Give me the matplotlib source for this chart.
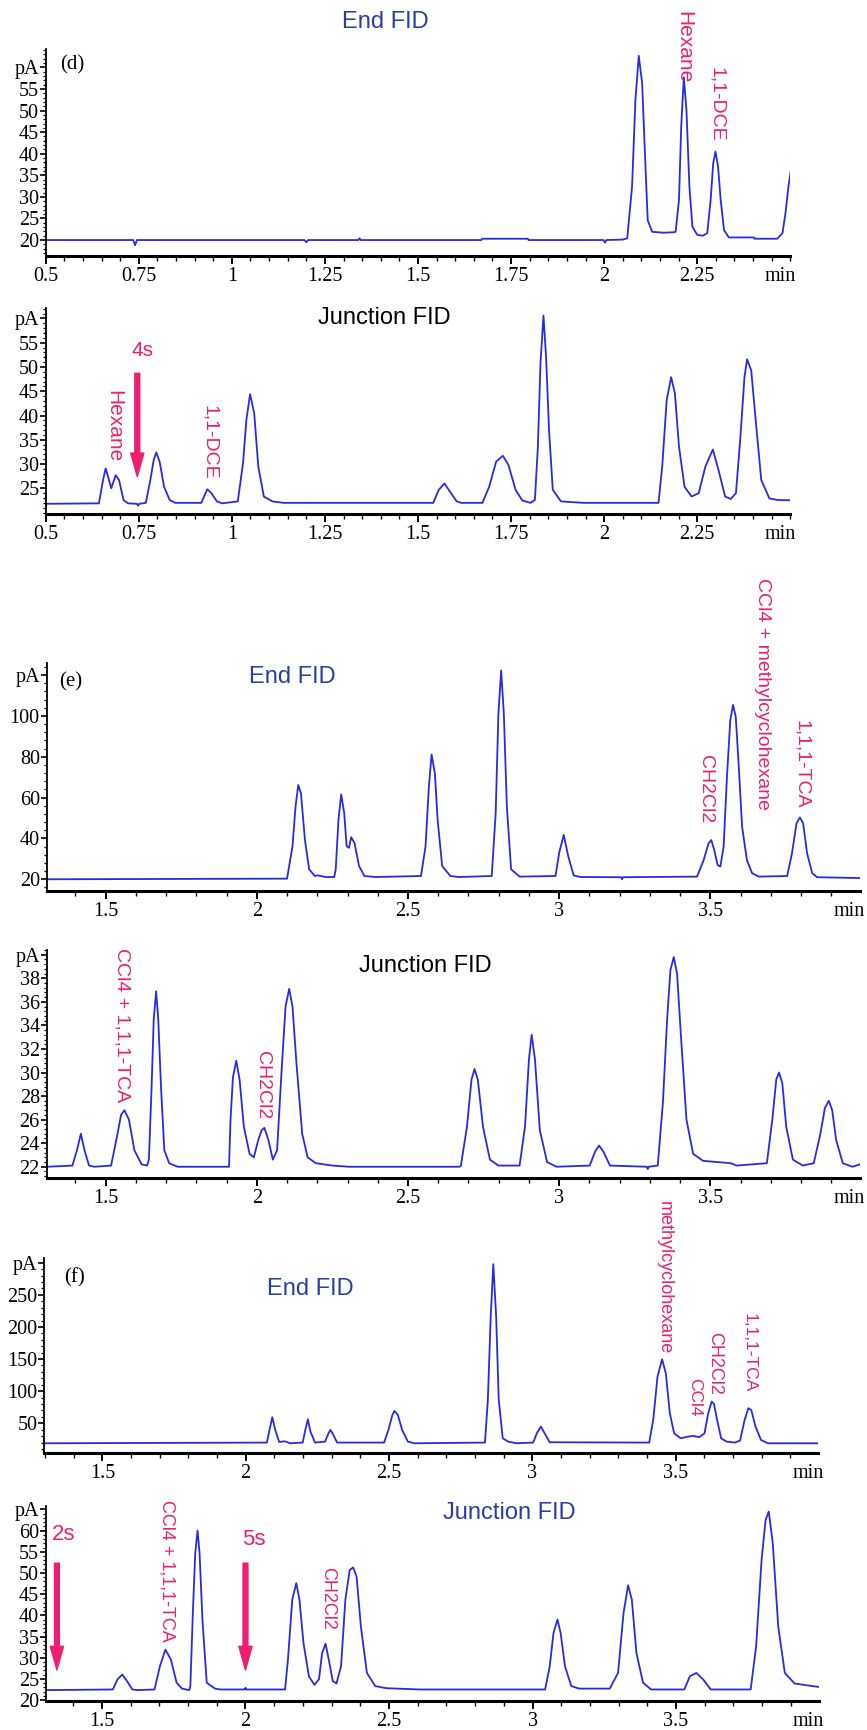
import matplotlib
matplotlib.use("Agg")
import matplotlib.pyplot as plt
from matplotlib.ticker import MultipleLocator, FixedLocator, FixedFormatter, FuncFormatter

plt.rcParams["font.family"] = ["Liberation Serif", "DejaVu Serif"]
SANS = ["Liberation Sans", "DejaVu Sans"]

# (d) End FID
d_end_t = [0.500, 0.735, 0.740, 0.745, 1.195, 1.200, 1.205, 1.340, 1.343, 1.346,
           1.670, 1.672, 1.795, 1.797, 1.998, 2.002, 2.006, 2.050, 2.062, 2.075,
           2.084, 2.093, 2.102, 2.111, 2.117, 2.129, 2.160, 2.187, 2.192, 2.201,
           2.207, 2.214, 2.221, 2.229, 2.237, 2.250, 2.265, 2.277, 2.286, 2.293,
           2.299, 2.306, 2.313, 2.322, 2.335, 2.402, 2.404, 2.465, 2.479, 2.487,
           2.495, 2.501]
d_end_pa = [20.0, 20.0, 18.8, 20.0, 20.0, 19.5, 20.0, 20.0, 20.4, 20.0,
            20.0, 20.3, 20.3, 20.0, 20.0, 19.4, 20.0, 20.1, 20.4, 32.4,
            52.5, 62.7, 56.4, 37.0, 24.6, 21.9, 21.7, 21.8, 21.9, 29.3,
            46.3, 57.7, 50.2, 32.4, 23.1, 21.2, 21.0, 21.6, 29.3, 37.8,
            40.5, 37.0, 29.3, 22.3, 20.6, 20.6, 20.3, 20.3, 21.6, 26.2,
            32.4, 35.9]

# (d) Junction FID
d_junc_t = [0.500, 0.643, 0.654, 0.661, 0.670, 0.676, 0.688, 0.697, 0.709, 0.721,
            0.745, 0.748, 0.751, 0.769, 0.781, 0.790, 0.797, 0.806, 0.818, 0.833,
            0.848, 0.918, 0.927, 0.934, 0.945, 0.960, 0.974, 1.016, 1.030, 1.039,
            1.049, 1.060, 1.071, 1.086, 1.109, 1.139, 1.541, 1.556, 1.571, 1.586,
            1.604, 1.616, 1.673, 1.691, 1.710, 1.728, 1.743, 1.762, 1.780, 1.802,
            1.814, 1.822, 1.829, 1.837, 1.844, 1.852, 1.862, 1.884, 1.944, 2.146,
            2.156, 2.168, 2.180, 2.190, 2.201, 2.216, 2.235, 2.254, 2.272, 2.292,
            2.307, 2.325, 2.340, 2.354, 2.366, 2.377, 2.384, 2.395, 2.407, 2.422,
            2.444, 2.466, 2.508]
d_junc_pa = [21.8, 21.9, 26.7, 29.1, 26.7, 25.0, 27.7, 26.7, 22.6, 21.9,
             21.8, 21.4, 21.8, 22.0, 26.7, 30.8, 32.4, 30.5, 25.3, 22.6,
             22.0, 22.0, 23.6, 24.8, 24.0, 22.3, 21.9, 22.3, 30.2, 39.1,
             44.4, 40.5, 29.5, 23.3, 22.3, 22.0, 22.0, 24.7, 26.0, 24.3,
             22.3, 22.0, 22.0, 25.3, 30.5, 31.7, 29.8, 24.7, 22.5, 22.0,
             22.6, 33.6, 50.8, 60.6, 52.1, 37.0, 24.7, 22.3, 22.0, 22.0,
             29.5, 43.2, 47.9, 44.6, 33.6, 25.3, 23.3, 24.0, 29.5, 33.0,
             28.8, 23.3, 22.8, 24.0, 35.6, 48.0, 51.6, 49.3, 39.1, 26.7,
             22.9, 22.6, 22.5]

# (e) End FID
e_end_t = [1.305, 2.100, 2.118, 2.128, 2.137, 2.146, 2.159, 2.173, 2.192, 2.201,
           2.228, 2.256, 2.261, 2.270, 2.279, 2.289, 2.297, 2.305, 2.312, 2.323,
           2.338, 2.356, 2.393, 2.543, 2.558, 2.569, 2.578, 2.589, 2.598, 2.613,
           2.640, 2.667, 2.777, 2.790, 2.799, 2.808, 2.817, 2.827, 2.841, 2.869,
           2.988, 3.000, 3.015, 3.030, 3.048, 3.070, 3.205, 3.208, 3.211, 3.456,
           3.478, 3.494, 3.503, 3.513, 3.524, 3.533, 3.544, 3.555, 3.566, 3.575,
           3.584, 3.594, 3.605, 3.621, 3.638, 3.660, 3.754, 3.770, 3.785, 3.796,
           3.807, 3.820, 3.837, 3.853, 3.994]
e_end_pa = [20.0, 20.3, 36.2, 55.6, 66.2, 62.1, 39.4, 24.9, 21.6, 21.9,
            21.1, 21.1, 24.9, 49.1, 61.6, 52.4, 36.2, 35.4, 40.6, 37.8,
            26.5, 21.6, 21.1, 21.6, 36.2, 65.3, 81.1, 71.8, 49.1, 26.5,
            21.6, 21.1, 21.6, 52.4, 101.0, 122.3, 101.0, 55.6, 24.9, 21.3,
            21.6, 33.0, 41.7, 31.3, 21.9, 21.1, 21.0, 20.0, 21.0, 21.3,
            29.4, 37.6, 39.2, 34.3, 27.0, 26.2, 36.0, 70.3, 98.0, 105.4,
            99.6, 75.2, 45.8, 29.4, 23.0, 21.3, 21.6, 32.7, 47.4, 50.3,
            47.4, 32.7, 23.0, 21.0, 20.6]

# (e) Junction FID
e_junc_t = [1.308, 1.390, 1.405, 1.418, 1.430, 1.445, 1.463, 1.518, 1.537, 1.551,
            1.562, 1.577, 1.595, 1.619, 1.637, 1.643, 1.652, 1.659, 1.667, 1.674,
            1.683, 1.694, 1.710, 1.738, 1.908, 1.913, 1.921, 1.932, 1.943, 1.957,
            1.976, 1.990, 2.005, 2.016, 2.025, 2.038, 2.053, 2.067, 2.082, 2.095,
            2.107, 2.118, 2.131, 2.150, 2.168, 2.195, 2.250, 2.305, 2.671, 2.675,
            2.695, 2.710, 2.720, 2.731, 2.748, 2.771, 2.799, 2.869, 2.887, 2.900,
            2.909, 2.920, 2.936, 2.960, 2.991, 3.101, 3.119, 3.132, 3.146, 3.168,
            3.290, 3.293, 3.296, 3.326, 3.343, 3.357, 3.368, 3.379, 3.390, 3.403,
            3.421, 3.443, 3.476, 3.568, 3.586, 3.687, 3.705, 3.718, 3.727, 3.738,
            3.751, 3.773, 3.806, 3.842, 3.864, 3.879, 3.892, 3.903, 3.916, 3.938,
            3.970, 3.994]
e_junc_pa = [22.0, 22.1, 23.4, 24.8, 23.4, 22.1, 22.0, 22.1, 24.5, 26.4,
             26.8, 26.0, 23.4, 22.2, 22.1, 22.6, 28.8, 34.5, 36.9, 34.5,
             28.8, 23.4, 22.3, 22.0, 22.0, 26.0, 29.6, 31.0, 29.4, 25.4,
             23.1, 22.8, 24.3, 25.1, 25.3, 24.3, 22.6, 23.4, 30.2, 35.6,
             37.1, 35.6, 30.8, 24.8, 22.8, 22.3, 22.1, 22.0, 22.0, 22.1,
             25.4, 29.4, 30.3, 29.4, 25.4, 22.6, 22.1, 22.1, 25.4, 31.1,
             33.2, 31.1, 25.1, 22.4, 22.0, 22.1, 23.3, 23.8, 23.3, 22.1,
             22.0, 21.8, 22.0, 22.1, 27.4, 34.5, 38.7, 39.8, 38.4, 33.0,
             26.0, 23.1, 22.5, 22.3, 22.1, 22.3, 26.0, 29.4, 30.0, 29.1,
             25.4, 22.6, 22.1, 22.3, 24.8, 27.0, 27.6, 26.8, 24.3, 22.3,
             22.0, 22.2]

# (f) End FID
f_end_t = [1.298, 2.074, 2.083, 2.093, 2.103, 2.117, 2.136, 2.155, 2.199, 2.208,
           2.217, 2.226, 2.242, 2.277, 2.289, 2.296, 2.306, 2.319, 2.483, 2.498,
           2.512, 2.519, 2.531, 2.546, 2.566, 2.589, 2.835, 2.845, 2.855, 2.864,
           2.874, 2.883, 2.897, 2.916, 2.945, 3.003, 3.016, 3.030, 3.043, 3.061,
           3.408, 3.422, 3.437, 3.453, 3.466, 3.480, 3.495, 3.518, 3.543, 3.562,
           3.582, 3.601, 3.614, 3.626, 3.634, 3.645, 3.659, 3.678, 3.707, 3.725,
           3.741, 3.754, 3.764, 3.779, 3.798, 3.822, 3.997]
f_end_pa = [18.8, 19.9, 39.6, 59.4, 39.6, 20.9, 21.9, 18.8, 19.9, 39.6,
            56.2, 37.0, 19.9, 21.4, 34.4, 39.6, 31.8, 19.9, 19.9, 39.6,
            63.0, 69.2, 63.0, 39.6, 21.4, 18.8, 19.9, 86.4, 216.2, 297.8,
            216.2, 86.4, 26.6, 21.4, 18.8, 19.9, 34.4, 44.8, 34.4, 20.4,
            19.9, 55.2, 122.7, 149.7, 127.9, 65.6, 34.4, 26.6, 29.2, 30.3,
            28.2, 34.4, 65.6, 83.8, 80.1, 55.2, 26.6, 21.4, 19.9, 23.0,
            55.2, 73.4, 70.8, 44.8, 24.0, 18.8, 18.8]

# (f) Junction FID
f_junc_t = [1.304, 1.538, 1.554, 1.571, 1.587, 1.606, 1.625, 1.683, 1.702, 1.721,
            1.740, 1.760, 1.779, 1.804, 1.808, 1.817, 1.825, 1.833, 1.840, 1.850,
            1.865, 1.894, 1.913, 1.998, 2.000, 2.002, 2.138, 2.148, 2.163, 2.177,
            2.188, 2.202, 2.221, 2.240, 2.256, 2.267, 2.279, 2.290, 2.304, 2.317,
            2.333, 2.348, 2.363, 2.375, 2.387, 2.402, 2.423, 2.452, 2.490, 2.606,
            3.044, 3.060, 3.073, 3.087, 3.098, 3.113, 3.135, 3.163, 3.269, 3.298,
            3.317, 3.333, 3.346, 3.362, 3.385, 3.413, 3.529, 3.548, 3.571, 3.594,
            3.621, 3.760, 3.779, 3.798, 3.812, 3.823, 3.837, 3.856, 3.879, 3.913,
            3.996]
f_junc_pa = [22.35, 22.5, 24.9, 26.0, 24.5, 22.5, 22.35, 22.5, 28.0, 31.9,
             29.6, 24.1, 22.7, 22.35, 23.3, 41.3, 54.7, 60.0, 54.7, 39.0,
             24.1, 22.7, 22.5, 22.5, 22.9, 22.5, 22.5, 29.6, 43.7, 47.6,
             43.7, 33.5, 25.6, 23.6, 24.9, 31.1, 33.3, 29.6, 24.5, 23.9,
             28.0, 43.7, 50.7, 51.3, 49.2, 37.4, 26.4, 23.3, 22.8, 22.5,
             22.5, 28.0, 35.8, 39.0, 35.8, 28.0, 23.3, 22.7, 22.7, 26.4,
             40.5, 47.1, 43.7, 31.1, 24.1, 22.5, 22.5, 25.6, 26.4, 24.9,
             22.5, 22.5, 32.7, 53.1, 62.5, 64.5, 57.0, 37.4, 26.4, 23.9,
             23.1]

x_ticks_d = [0.5, 0.75, 1.0, 1.25, 1.5, 1.75, 2.0, 2.25]
x_ticks_ef = [1.5, 2.0, 2.5, 3.0, 3.5]

pink = "#ee1e71"
navy = "#2b3f9e"
blue = "#2a2ae0"

W, H = 867, 1730
fig = plt.figure(figsize=(W / 100, H / 100), dpi=100)


def panel(left, right, top, bottom, t, pa, xlim, ylim, xticks, xminor, yticks, yminor):
    ax = fig.add_axes([left / W, 1 - bottom / H, (right - left) / W, (bottom - top) / H])
    ax.plot(t, pa, color=blue, lw=1.3)
    ax.set_xlim(xlim)
    ax.set_ylim(ylim)
    ax.spines["top"].set_visible(False)
    ax.spines["right"].set_visible(False)
    ax.spines["bottom"].set_linewidth(2.2)
    ax.spines["left"].set_linewidth(1.3)
    ax.xaxis.set_major_locator(FixedLocator(xticks))
    ax.xaxis.set_major_formatter(FuncFormatter(lambda v, p: "%g" % v))
    ax.xaxis.set_minor_locator(MultipleLocator(xminor))
    ax.yaxis.set_major_locator(FixedLocator(yticks))
    ax.yaxis.set_major_formatter(FixedFormatter(["%g" % v for v in yticks[:-1]] + ["pA"]))
    ax.yaxis.set_minor_locator(MultipleLocator(yminor))
    ax.tick_params(axis="x", which="major", direction="out", length=6, width=1.4, labelsize=14.5, pad=2)
    ax.tick_params(axis="x", which="minor", direction="out", length=3.5, width=1.0)
    ax.tick_params(axis="y", which="major", direction="out", length=4, width=1.2, labelsize=14.5, pad=1)
    ax.tick_params(axis="y", which="minor", direction="out", length=2.5, width=0.9)
    ax.annotate("min", xy=(1, 0), xycoords="axes fraction", xytext=(4, -8),
                textcoords="offset points", ha="right", va="top", fontsize=14.5)
    return ax


def vlabel(ax, x, y, s, size=14):
    ax.text(x, y, s, color=pink, fontsize=size, family=SANS, rotation=-90,
            ha="center", va="top")


def arrow(ax, x, tail, tip):
    ax.annotate("", xy=(x, tip), xytext=(x, tail),
                arrowprops=dict(facecolor=pink, edgecolor=pink, width=3.5,
                                headwidth=9.5, headlength=17, shrink=0))


# (d) End FID
ax1 = panel(45.7, 790.3, 49.3, 256, d_end_t, d_end_pa, (0.5, 2.5), (16.3, 64.2),
            x_ticks_d, 0.05, [20, 25, 30, 35, 40, 45, 50, 55, 60], 1)
ax1.text(1.412, 70.6, "End FID", color=navy, fontsize=17, family=SANS, ha="center", va="center")
ax1.text(0.57, 60.6, "(d)", fontsize=15, ha="center", va="center")
vlabel(ax1, 2.214, 73.0, "Hexane", 15)
vlabel(ax1, 2.303, 60.2, "1,1-DCE")

# (d) Junction FID
ax2 = panel(45.7, 790.3, 308.3, 514.3, d_junc_t, d_junc_pa, (0.5, 2.5), (19.64, 62.1),
            x_ticks_d, 0.05, [25, 30, 35, 40, 45, 50, 55, 60], 1)
ax2.text(1.409, 60.1, "Junction FID", color="black", fontsize=17, family=SANS, ha="center", va="center")
vlabel(ax2, 0.682, 45.3, "Hexane", 15)
vlabel(ax2, 0.941, 42.2, "1,1-DCE")
ax2.text(0.760, 53.5, "4s", color=pink, fontsize=15, family=SANS, ha="center", va="center")
arrow(ax2, 0.746, 48.7, 27.4)

# (e) End FID
ax3 = panel(46.7, 859.7, 663.3, 890.7, e_end_t, e_end_pa, (1.305, 3.994), (14.4, 125.8),
            x_ticks_ef, 0.1, [20, 40, 60, 80, 100, 120], 4)
ax3.text(2.119, 119.2, "End FID", color=navy, fontsize=17, family=SANS, ha="center", va="center")
ax3.text(1.385, 116.8, "(e)", fontsize=15, ha="center", va="center")
vlabel(ax3, 3.483, 80.9, "CH2Cl2")
vlabel(ax3, 3.674, 167.5, "CCl4 + methylcyclohexane")
vlabel(ax3, 3.800, 98.0, "1,1,1-TCA")

# (e) Junction FID
ax4 = panel(46.7, 859.7, 950, 1177.7, e_junc_t, e_junc_pa, (1.305, 3.994), (21.07, 40.4),
            x_ticks_ef, 0.1, [22, 24, 26, 28, 30, 32, 34, 36, 38, 40], 0.4)
ax4.text(2.558, 39.0, "Junction FID", color="black", fontsize=17, family=SANS, ha="center", va="center")
vlabel(ax4, 1.553, 40.6, "CCl4 + 1,1,1-TCA")
vlabel(ax4, 2.019, 31.8, "CH2Cl2")

# (f) End FID
ax5 = panel(44.2, 818, 1258.3, 1453.3, f_end_t, f_end_pa, (1.297, 3.997), (3.2, 307),
            x_ticks_ef, 0.1, [50, 100, 150, 200, 250, 300], 10)
ax5.text(2.225, 258.8, "End FID", color=navy, fontsize=17, family=SANS, ha="center", va="center")
ax5.text(1.402, 276.4, "(f)", fontsize=15, ha="center", va="center")
vlabel(ax5, 3.459, 396.4, "methylcyclohexane", 13)
vlabel(ax5, 3.565, 120.6, "CCl4", 12.5)
vlabel(ax5, 3.638, 192.7, "CH2Cl2", 13)
vlabel(ax5, 3.758, 221.9, "1,1,1-TCA", 12.5)

# (f) Junction FID
ax6 = panel(45.7, 818.7, 1506, 1700.7, f_junc_t, f_junc_pa, (1.304, 3.997), (19.85, 65.8),
            x_ticks_ef, 0.1, [20, 25, 30, 35, 40, 45, 50, 55, 60, 65], 1)
ax6.text(2.919, 64.1, "Junction FID", color=navy, fontsize=17, family=SANS, ha="center", va="center")
vlabel(ax6, 1.727, 67.2, "CCl4 + 1,1,1-TCA", 13)
vlabel(ax6, 2.287, 51.5, "CH2Cl2", 13)
ax6.text(1.368, 59.0, "2s", color=pink, fontsize=16, family=SANS, ha="center", va="center")
ax6.text(2.029, 57.8, "5s", color=pink, fontsize=16, family=SANS, ha="center", va="center")
arrow(ax6, 1.343, 52.3, 27.1)
arrow(ax6, 2.000, 52.3, 27.1)

fig.savefig("out.png", dpi=100)
